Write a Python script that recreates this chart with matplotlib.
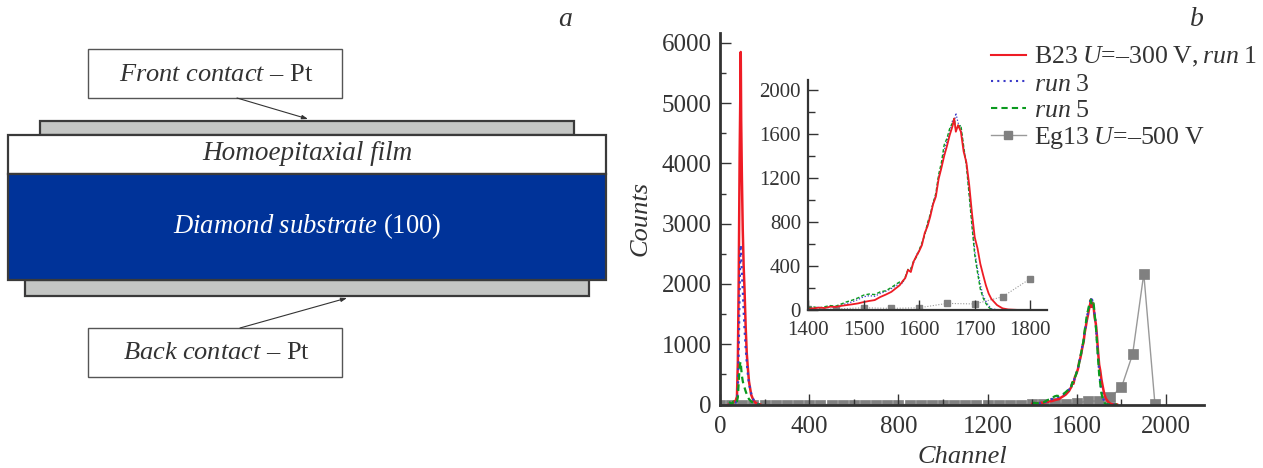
# -*- coding: utf-8 -*-
import matplotlib
matplotlib.use('Agg')
import matplotlib.pyplot as plt
from matplotlib.patches import Rectangle
from matplotlib.lines import Line2D

plt.rcParams['font.family'] = ['Liberation Serif', 'DejaVu Serif']
plt.rcParams['mathtext.fontset'] = 'custom'
plt.rcParams['mathtext.rm'] = 'Liberation Serif'
plt.rcParams['mathtext.it'] = 'Liberation Serif:italic'
plt.rcParams['text.color'] = '#333333'

W, H = 1263, 468
TXT = '#333333'
RED = '#ee1c25'
BLUE = '#3a3ac8'
GREEN = '#0a9a1e'
GREY = '#808080'

# peak near channel 90
chan_low = [40, 55, 60, 70, 76, 80, 84, 88, 91, 93, 95, 98, 102, 106, 110, 115, 120, 125, 130, 140, 150, 160, 170, 180]
run1_low = [0, 10, 40, 60, 130, 700, 2100, 4100, 5100, 5850, 4700, 3800, 2900, 2300, 1900, 1300, 850, 600, 380, 160, 70, 25, 10, 0]
run3_low = [0, 5, 20, 30, 70, 250, 900, 1900, 2500, 2650, 2450, 2200, 1900, 1550, 1250, 950, 700, 500, 350, 180, 80, 30, 10, 0]
run5_low = [40, 10, 50, 20, 50, 120, 380, 620, 690, 710, 600, 480, 390, 320, 280, 220, 170, 120, 90, 50, 25, 10, 0, 0]

# spectrum main peak, same samples for main plot and inset
chan_high = [1400, 1410, 1420, 1430, 1440, 1450, 1460, 1470, 1480, 1490, 1500, 1510, 1520, 1530, 1540, 1550,
             1560, 1565, 1570, 1575, 1580, 1585, 1590, 1595, 1600, 1605, 1610, 1615, 1620, 1625, 1630, 1635,
             1640, 1645, 1650, 1655, 1660, 1663, 1666, 1670, 1675, 1680, 1685, 1690, 1695, 1700, 1705, 1710,
             1715, 1720, 1725, 1730, 1740, 1750, 1760, 1780]
run1_high = [12, 15, 22, 18, 30, 28, 38, 45, 52, 60, 72, 82, 90, 118, 140, 165,
             205, 225, 260, 290, 365, 345, 440, 490, 535, 590, 700, 760, 850, 960, 1030, 1190,
             1290, 1400, 1490, 1590, 1670, 1740, 1620, 1680, 1620, 1440, 1340, 1140, 880, 660, 560, 420,
             320, 225, 150, 100, 45, 15, 5, 0]
run3_high = [10, 20, 25, 15, 35, 25, 45, 60, 75, 95, 120, 130, 125, 150, 170, 195,
             225, 250, 240, 300, 360, 380, 430, 500, 540, 600, 690, 780, 860, 980, 1040, 1210,
             1300, 1450, 1530, 1620, 1720, 1680, 1790, 1700, 1660, 1480, 1330, 1060, 800, 540, 370, 230,
             130, 80, 40, 12, 3, 0, 0, 0]
run5_high = [20, 28, 18, 30, 40, 35, 55, 75, 90, 110, 135, 145, 140, 165, 175, 205,
             240, 255, 255, 300, 370, 370, 445, 480, 545, 610, 680, 790, 870, 970, 1060, 1230,
             1340, 1500, 1560, 1650, 1700, 1740, 1640, 1660, 1680, 1490, 1310, 1040, 760, 500, 340, 190,
             110, 60, 25, 5, 0, 0, 0, 0]

chan_eg = [0, 50, 100, 150, 200, 250, 300, 350, 400, 450, 500, 550, 600, 650, 700, 750, 800, 850, 900, 950,
           1000, 1050, 1100, 1150, 1200, 1250, 1300, 1350, 1400, 1450, 1500, 1550, 1600, 1650, 1700, 1750,
           1800, 1850, 1900, 1950]
eg13 = [0, 0, 0, 0, 0, 0, 0, 0, 0, 0, 0, 0, 0, 0, 0, 0, 0, 0, 0, 0,
        0, 0, 0, 0, 0, 0, 0, 0, 5, 10, 20, 15, 20, 60, 55, 120,
        285, 835, 2170, 10]

legend_labels = ['B23\u2009$U$=–300\u2009V,\u2009$run$\u20091', '$run$\u20093', '$run$\u20095', 'Eg13\u2009$U$=–500\u2009V']


def px_axes(fig, x0, y_top, x1, y_bot):
    return fig.add_axes([x0 / W, 1 - y_bot / H, (x1 - x0) / W, (y_bot - y_top) / H])


def style(ax, lw, maj, minr):
    for s in ['top', 'right']:
        ax.spines[s].set_visible(False)
    for s in ['left', 'bottom']:
        ax.spines[s].set_linewidth(lw)
        ax.spines[s].set_color('#333333')
    ax.set_axisbelow(False)
    ax.tick_params(which='major', direction='in', length=maj, width=1.0, color='#333333', labelcolor=TXT)
    ax.tick_params(which='minor', direction='in', length=minr, width=1.0, color='#333333')


fig = plt.figure(figsize=(W / 100, H / 100), dpi=100)

# panel a - layer schematic, drawn in pixel coords
sk = fig.add_axes([0, 0, 1, 1])
sk.set_xlim(0, W)
sk.set_ylim(H, 0)
sk.axis('off')
edge = '#3a3a3a'
sk.add_patch(Rectangle((40, 121), 534, 14, fc='#c4c6c4', ec=edge, lw=1.6))
sk.add_patch(Rectangle((25, 280), 564, 16, fc='#c4c6c4', ec=edge, lw=1.6))
sk.add_patch(Rectangle((8, 135), 598, 39, fc='white', ec=edge, lw=1.6))
sk.add_patch(Rectangle((8, 174), 598, 106, fc='#003399', ec=edge, lw=1.6))
sk.add_patch(Rectangle((88, 49), 254, 49, fc='white', ec='#555555', lw=1.0))
sk.add_patch(Rectangle((88, 328), 254, 49, fc='white', ec='#555555', lw=1.0))
arrow = dict(arrowstyle='-|>,head_length=0.35,head_width=0.12', color='#333333', lw=0.8, shrinkA=0, shrinkB=0)
sk.annotate('', xy=(308, 119), xytext=(237, 98), arrowprops=arrow)
sk.annotate('', xy=(347, 298), xytext=(240, 328), arrowprops=arrow)
sk.text(216, 75, '$\\mathit{Front\\ contact}$ – Pt', fontsize=19, ha='center', va='center')
sk.text(216, 353, '$\\mathit{Back\\ contact}$ – Pt', fontsize=19, ha='center', va='center')
sk.text(307, 153, 'Homoepitaxial film', style='italic', fontsize=19.5, ha='center', va='center')
sk.text(307, 226, '$\\mathit{Diamond\\ substrate}$ (100)', fontsize=19.2, color='white', ha='center', va='center')
sk.text(565, 19, 'a', style='italic', fontsize=20, ha='center', va='center')
sk.text(1197, 19, 'b', style='italic', fontsize=20, ha='center', va='center')

# panel b - main spectrum
ax = px_axes(fig, 720, 33, 1204, 404.5)
ax.set_xlim(0, 2170)
ax.set_ylim(0, 6165)
style(ax, 2.0, 8, 4.5)
ax.plot(chan_eg, eg13, color='#999999', lw=1.0, marker='s', ms=6.5, mfc=GREY, mec=GREY, mew=0.5, zorder=2)
for ch, r1, r3, r5 in [(chan_low, run1_low, run3_low, run5_low), (chan_high, run1_high, run3_high, run5_high)]:
    ax.plot(ch, r1, color=RED, lw=1.8, zorder=2.1)
    ax.plot(ch, r3, color=BLUE, lw=1.6, ls=(0, (1, 2)), zorder=2.2)
    ax.plot(ch, r5, color=GREEN, lw=1.6, ls=(0, (3, 2)), zorder=2.2)
ax.set_xticks([0, 400, 800, 1200, 1600, 2000])
ax.set_xticks([200, 600, 1000, 1400, 1800], minor=True)
ax.set_yticks([0, 1000, 2000, 3000, 4000, 5000, 6000])
ax.set_yticks([500, 1500, 2500, 3500, 4500, 5500], minor=True)
ax.tick_params(axis='both', labelsize=18, pad=6)
ax.tick_params(axis='x', pad=8)
ax.set_xlabel('Channel', style='italic', fontsize=19, color=TXT, labelpad=6)
ax.set_ylabel('Counts', style='italic', fontsize=19, color=TXT, labelpad=7)

handles = [Line2D([], [], color=RED, lw=1.5),
           Line2D([], [], color=BLUE, lw=1.5, ls=(0, (1, 2))),
           Line2D([], [], color=GREEN, lw=1.5, ls=(0, (3, 2))),
           Line2D([], [], color='#999999', lw=1.0, marker='s', ms=6, mfc=GREY, mec=GREY)]
fig.legend(handles, legend_labels, loc='upper left', bbox_to_anchor=(991 / W, 1 - 45 / H), frameon=False,
           fontsize=18.6, handlelength=1.35, handletextpad=0.3, labelspacing=0.13, borderpad=0, borderaxespad=0,
           labelcolor=TXT)

# inset zoom of the main peak, grey run only up to 1800
ins = px_axes(fig, 808, 80, 1047, 310)
ins.patch.set_alpha(0)
ins.set_xlim(1400, 1830)
ins.set_ylim(0, 2090)
style(ins, 1.6, 7, 5)
i0, i1 = chan_eg.index(1400), chan_eg.index(1800) + 1
ins.plot(chan_eg[i0:i1], eg13[i0:i1], color='#999999', lw=0.8, ls=(0, (1, 1.5)), marker='s', ms=4.8, mfc=GREY, mec=GREY, zorder=2)
ins.plot(chan_high, run3_high, color=BLUE, lw=0.9, ls=(0, (1, 1.5)), zorder=2.1)
ins.plot(chan_high, run5_high, color=GREEN, lw=1.0, ls=(0, (2.5, 1.5)), zorder=2.1)
ins.plot(chan_high, run1_high, color=RED, lw=1.3, zorder=2.2)
ins.set_xticks([1400, 1500, 1600, 1700, 1800])
ins.set_yticks([0, 400, 800, 1200, 1600, 2000])
ins.set_yticks([200, 600, 1000, 1400, 1800], minor=True)
ins.tick_params(axis='both', labelsize=15, pad=5)
ins.tick_params(axis='x', pad=8)

fig.savefig('out.png', dpi=100)
